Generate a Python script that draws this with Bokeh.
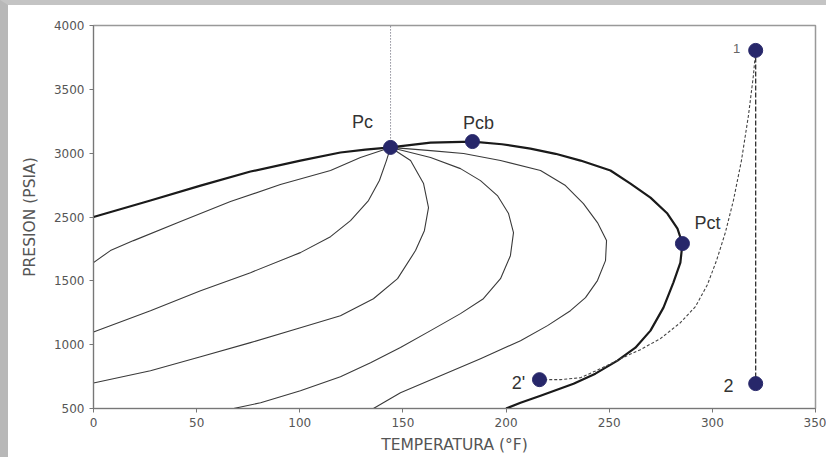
import math
from bokeh.plotting import figure
from bokeh.models import FixedTicker, Range1d
from bokeh.core.properties import value
from bokeh.embed import file_html
from bokeh.resources import INLINE

# ---- data (temperature in degF, pressure in the chart's plotted axis units) ----
x_ticks = [0, 50, 100, 150, 200, 250, 300, 350]
y_tick_values = [1000, 1500, 2000, 2500, 3000, 3500, 4000]
y_tick_labels = ["500", "1000", "1500", "2500", "3000", "3500", "4000"]

# phase envelope: bubble-point branch (left) and dew-point branch (right)
bubble_T = [0, 27.6, 51.9, 76.1, 100.3, 119.7, 131.8, 144]
bubble_P = [2500, 2629, 2746, 2856, 2942, 3005, 3028, 3045]
dew_T = [144, 163.4, 183.7, 198.0, 211.8, 224.0, 236.1, 250.6, 260.3, 270.0, 278.2, 283.1, 285.5,
         284.5, 281.1, 276.3, 270.0, 262.7, 254.0, 243.3, 232.7, 216.7, 207.0, 200]
dew_P = [3045, 3083, 3091, 3070, 3036, 2995, 2942, 2864, 2762, 2652, 2527, 2409, 2292,
         2143, 1986, 1790, 1610, 1476, 1375, 1273, 1194, 1100, 1045, 1000]

# quality lines radiating from the critical point
qa_T = [144, 129.4, 114.9, 90.6, 66.4, 42.2, 19.4, 8.2, 0]
qa_P = [3045, 2966, 2864, 2754, 2621, 2464, 2315, 2237, 2143]
qb_T = [144, 142.0, 138.6, 133.3, 124.6, 114.9, 100.3, 76.1, 51.9, 27.6, 0]
qb_P = [3045, 2942, 2786, 2629, 2472, 2346, 2221, 2064, 1923, 1766, 1600]
qc_T = [144, 153.7, 160.0, 162.4, 160.4, 156.1, 147.4, 135.7, 119.7, 100.3, 76.1, 51.9, 27.6, 0]
qc_P = [3045, 2942, 2762, 2574, 2393, 2237, 2017, 1860, 1727, 1633, 1516, 1406, 1296, 1200]
qd_T = [144, 163.4, 177.9, 187.6, 195.8, 201.2, 203.6, 202.1, 197.3, 189.0, 177.9,
        163.4, 148.8, 134.3, 119.7, 100.3, 81.0, 67.9]
qd_P = [3045, 2966, 2879, 2785, 2668, 2527, 2378, 2197, 2017, 1860, 1743,
        1610, 1477, 1359, 1249, 1139, 1045, 1000]
qe_T = [144, 163.4, 179.4, 197.3, 216.7, 228.8, 237.5, 244.3, 248.7, 248.2, 244.3,
        238.5, 231.2, 220.1, 207.0, 187.6, 168.2, 148.8, 135.7]
qe_P = [3045, 3020, 2997, 2942, 2864, 2746, 2605, 2456, 2315, 2158, 2002,
        1868, 1766, 1649, 1531, 1390, 1257, 1124, 1000]

# process paths
path12_T = [321, 321]
path12_P = [3805, 1195]
path12b_T = [321, 319.9, 317.5, 314.1, 310.2, 306.3, 302.0, 297.6, 291.8, 284.5,
             274.8, 265.1, 255.5, 245.8, 236.1, 226.4, 216.2]
path12b_P = [3805, 3608, 3295, 2942, 2629, 2378, 2158, 1970, 1798, 1672,
             1547, 1461, 1390, 1312, 1241, 1226, 1226]
crit_T = [144, 144]
crit_P = [3045, 4000]

# marked points
pts_T = [144, 183.7, 285.5, 321, 321, 216.2]
pts_P = [3045, 3091, 2292, 3805, 1195, 1226]

# point labels
big_names = ["Pc", "Pcb", "Pct", "2", "2'"]
big_T = [130.4, 186.6, 297.6, 307.8, 206.0]
big_P = [3248, 3236, 2456, 1179, 1202]
small_names = ["1"]
small_T = [311.7]
small_P = [3820]

p = figure(width=826, height=457, output_backend="svg", toolbar_location=None,
           x_range=Range1d(0, 350), y_range=Range1d(1000, 4000),
           min_border_left=85, min_border_right=19, min_border_top=20, min_border_bottom=54)
p.styles = {"border-left": "8px solid #b8b8b8", "border-top": "5px solid #c4c4c4"}
p.background_fill_color = "white"
p.border_fill_color = "white"
p.outline_line_color = "#999999"
p.outline_line_width = 1.5
p.grid.visible = False

axis_font = "DejaVu Sans"
for ax in (p.xaxis, p.yaxis):
    ax.axis_line_color = "#777777"
    ax.major_tick_line_color = "#777777"
    ax.minor_tick_line_color = None
    ax.major_tick_in = 0
    ax.major_tick_out = 4
    ax.major_label_text_font = axis_font
    ax.major_label_text_font_size = "12px"
    ax.major_label_text_color = "#555555"
    ax.major_label_standoff = 5
    ax.axis_label_text_font = axis_font
    ax.axis_label_text_font_size = "15.5px"
    ax.axis_label_text_font_style = "normal"
    ax.axis_label_text_color = "#555555"

p.xaxis.ticker = FixedTicker(ticks=x_ticks)
p.yaxis.ticker = FixedTicker(ticks=y_tick_values)
p.yaxis.major_label_overrides = dict(zip(y_tick_values, y_tick_labels))
p.xaxis.axis_label = "TEMPERATURA (°F)"
p.xaxis.axis_label_standoff = 6
p.yaxis.axis_label = "PRESION (PSIA)"
p.yaxis.axis_label_standoff = 12

# quality lines
for tx, py in [(qa_T, qa_P), (qb_T, qb_P), (qc_T, qc_P), (qd_T, qd_P), (qe_T, qe_P)]:
    p.line(tx, py, line_color="#3a3a3a", line_width=1.1, line_join="round")

# envelope
p.line(bubble_T, bubble_P, line_color="#1a1a1a", line_width=2.2, line_join="round")
p.line(dew_T, dew_P, line_color="#1a1a1a", line_width=2.2, line_join="round")

# dashed paths
p.line(crit_T, crit_P, line_color="#556", line_width=1, line_dash="1 2")
p.line(path12_T, path12_P, line_color="#333333", line_width=1.3, line_dash="5 2")
p.line(path12b_T, path12b_P, line_color="#444444", line_width=1.1, line_dash="3 2")

# points
p.scatter(pts_T, pts_P, size=14, fill_color="#27276a", line_color="#27276a")

p.text(big_T, big_P, text=big_names, text_font=value("Liberation Sans"),
       text_font_size="18px", text_color="#333333", text_align="center", text_baseline="middle")
p.text(small_T, small_P, text=small_names, text_font=value("Liberation Sans"),
       text_font_size="13px", text_color="#666666", text_align="center", text_baseline="middle")

open("out.html", "w").write(file_html(p, INLINE))
